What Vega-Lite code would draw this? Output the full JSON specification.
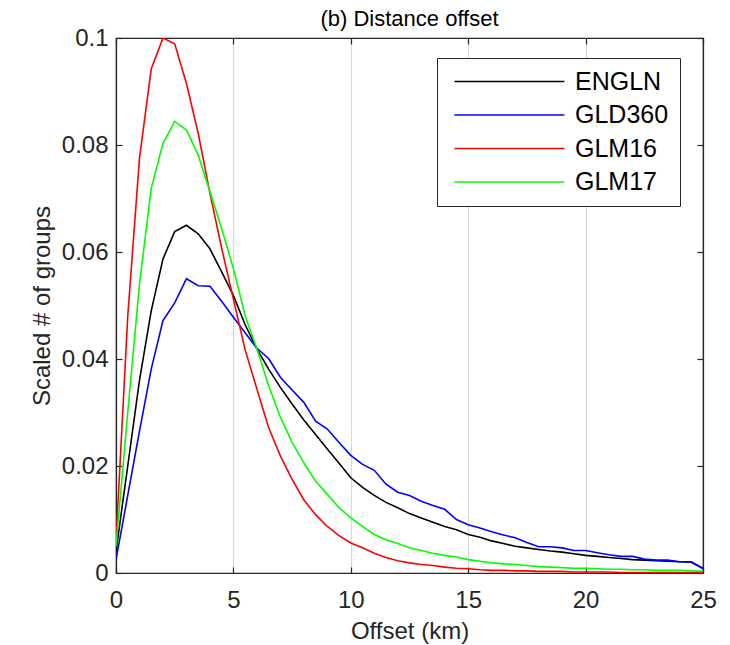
{
  "$schema": "https://vega.github.io/schema/vega-lite/v6.json",
  "width": 587,
  "height": 535,
  "autosize": {"type": "none"},
  "padding": {"left": 116, "top": 38, "right": 27, "bottom": 72},
  "background": "white",
  "title": {"text": "(b) Distance offset", "fontSize": 22, "fontWeight": "normal", "font": "Liberation Sans", "color": "#000000", "offset": -5},
  "config": {
    "font": "Liberation Sans",
    "view": {"stroke": "#262626", "strokeWidth": 1.2},
    "axis": {"labelFont": "Liberation Sans", "titleFont": "Liberation Sans", "labelFontSize": 24, "titleFontSize": 24, "titleFontWeight": "normal", "labelColor": "#262626", "titleColor": "#262626", "domainColor": "#262626", "tickColor": "#262626", "domainWidth": 1.2, "tickWidth": 1.2},
    "legend": {"labelFont": "Liberation Sans"}
  },
  "data": {"values": [
    {"km": 0, "ENGLN": 0.004, "GLD360": 0.0025, "GLM16": 0.006, "GLM17": 0.005},
    {"km": 0.5, "ENGLN": 0.020, "GLD360": 0.0145, "GLM16": 0.048, "GLM17": 0.030},
    {"km": 1, "ENGLN": 0.036, "GLD360": 0.0265, "GLM16": 0.0775, "GLM17": 0.054},
    {"km": 1.5, "ENGLN": 0.049, "GLD360": 0.0381, "GLM16": 0.0942, "GLM17": 0.0719},
    {"km": 2, "ENGLN": 0.0587, "GLD360": 0.0472, "GLM16": 0.1, "GLM17": 0.0803},
    {"km": 2.5, "ENGLN": 0.0638, "GLD360": 0.0505, "GLM16": 0.0989, "GLM17": 0.0844},
    {"km": 3, "ENGLN": 0.065, "GLD360": 0.055, "GLM16": 0.0915, "GLM17": 0.0828},
    {"km": 3.5, "ENGLN": 0.0634, "GLD360": 0.0537, "GLM16": 0.0822, "GLM17": 0.0781},
    {"km": 4, "ENGLN": 0.0606, "GLD360": 0.0536, "GLM16": 0.071, "GLM17": 0.0713},
    {"km": 4.5, "ENGLN": 0.0563, "GLD360": 0.0508, "GLM16": 0.0607, "GLM17": 0.0644},
    {"km": 5, "ENGLN": 0.0519, "GLD360": 0.0478, "GLM16": 0.0512, "GLM17": 0.0569},
    {"km": 5.5, "ENGLN": 0.0464, "GLD360": 0.0449, "GLM16": 0.0417, "GLM17": 0.0481},
    {"km": 6, "ENGLN": 0.0419, "GLD360": 0.042, "GLM16": 0.0344, "GLM17": 0.0419},
    {"km": 6.5, "ENGLN": 0.0381, "GLD360": 0.0401, "GLM16": 0.0272, "GLM17": 0.035},
    {"km": 7, "ENGLN": 0.0347, "GLD360": 0.0366, "GLM16": 0.0219, "GLM17": 0.0291},
    {"km": 7.5, "ENGLN": 0.0316, "GLD360": 0.0342, "GLM16": 0.0175, "GLM17": 0.0244},
    {"km": 8, "ENGLN": 0.0286, "GLD360": 0.0319, "GLM16": 0.0137, "GLM17": 0.0206},
    {"km": 8.5, "ENGLN": 0.0259, "GLD360": 0.0284, "GLM16": 0.0109, "GLM17": 0.0172},
    {"km": 9, "ENGLN": 0.0232, "GLD360": 0.0269, "GLM16": 0.0087, "GLM17": 0.0147},
    {"km": 9.5, "ENGLN": 0.0205, "GLD360": 0.0244, "GLM16": 0.007, "GLM17": 0.0122},
    {"km": 10, "ENGLN": 0.0178, "GLD360": 0.022, "GLM16": 0.0056, "GLM17": 0.0103},
    {"km": 10.5, "ENGLN": 0.016, "GLD360": 0.0203, "GLM16": 0.0047, "GLM17": 0.0087},
    {"km": 11, "ENGLN": 0.0145, "GLD360": 0.0192, "GLM16": 0.0037, "GLM17": 0.0072},
    {"km": 11.5, "ENGLN": 0.0132, "GLD360": 0.0166, "GLM16": 0.0029, "GLM17": 0.0062},
    {"km": 12, "ENGLN": 0.0122, "GLD360": 0.0151, "GLM16": 0.0023, "GLM17": 0.0055},
    {"km": 12.5, "ENGLN": 0.0111, "GLD360": 0.0145, "GLM16": 0.0019, "GLM17": 0.0047},
    {"km": 13, "ENGLN": 0.0103, "GLD360": 0.0134, "GLM16": 0.0016, "GLM17": 0.0042},
    {"km": 13.5, "ENGLN": 0.0095, "GLD360": 0.0126, "GLM16": 0.0014, "GLM17": 0.0037},
    {"km": 14, "ENGLN": 0.0087, "GLD360": 0.0119, "GLM16": 0.0011, "GLM17": 0.0033},
    {"km": 14.5, "ENGLN": 0.0081, "GLD360": 0.010, "GLM16": 0.0009, "GLM17": 0.003},
    {"km": 15, "ENGLN": 0.0072, "GLD360": 0.009, "GLM16": 0.0008, "GLM17": 0.0025},
    {"km": 15.5, "ENGLN": 0.0067, "GLD360": 0.0084, "GLM16": 0.0006, "GLM17": 0.0022},
    {"km": 16, "ENGLN": 0.006, "GLD360": 0.0077, "GLM16": 0.0005, "GLM17": 0.0019},
    {"km": 16.5, "ENGLN": 0.0055, "GLD360": 0.0071, "GLM16": 0.0005, "GLM17": 0.0017},
    {"km": 17, "ENGLN": 0.005, "GLD360": 0.0066, "GLM16": 0.0004, "GLM17": 0.0016},
    {"km": 17.5, "ENGLN": 0.0047, "GLD360": 0.0057, "GLM16": 0.0004, "GLM17": 0.0014},
    {"km": 18, "ENGLN": 0.0044, "GLD360": 0.0049, "GLM16": 0.0003, "GLM17": 0.0012},
    {"km": 18.5, "ENGLN": 0.0041, "GLD360": 0.0049, "GLM16": 0.0003, "GLM17": 0.0011},
    {"km": 19, "ENGLN": 0.0039, "GLD360": 0.0047, "GLM16": 0.0003, "GLM17": 0.001},
    {"km": 19.5, "ENGLN": 0.0036, "GLD360": 0.0042, "GLM16": 0.0002, "GLM17": 0.0009},
    {"km": 20, "ENGLN": 0.0033, "GLD360": 0.0042, "GLM16": 0.0002, "GLM17": 0.0009},
    {"km": 20.5, "ENGLN": 0.0031, "GLD360": 0.0038, "GLM16": 0.0002, "GLM17": 0.0008},
    {"km": 21, "ENGLN": 0.0029, "GLD360": 0.0034, "GLM16": 0.0002, "GLM17": 0.0007},
    {"km": 21.5, "ENGLN": 0.0027, "GLD360": 0.0031, "GLM16": 0.0001, "GLM17": 0.0007},
    {"km": 22, "ENGLN": 0.0025, "GLD360": 0.0031, "GLM16": 0.0001, "GLM17": 0.0006},
    {"km": 22.5, "ENGLN": 0.0024, "GLD360": 0.0026, "GLM16": 0.0001, "GLM17": 0.0006},
    {"km": 23, "ENGLN": 0.0023, "GLD360": 0.0024, "GLM16": 0.0001, "GLM17": 0.0005},
    {"km": 23.5, "ENGLN": 0.0022, "GLD360": 0.0024, "GLM16": 0.0001, "GLM17": 0.0005},
    {"km": 24, "ENGLN": 0.0021, "GLD360": 0.0021, "GLM16": 0.0001, "GLM17": 0.0005},
    {"km": 24.5, "ENGLN": 0.002, "GLD360": 0.0021, "GLM16": 0.0001, "GLM17": 0.0004},
    {"km": 25, "ENGLN": 0.0009, "GLD360": 0.0008, "GLM16": 0.0001, "GLM17": 0.0003}
  ]},
  "transform": [{"fold": ["ENGLN", "GLD360", "GLM16", "GLM17"], "as": ["network", "value"]}],
  "layer": [
    {
      "mark": {"type": "line", "strokeWidth": 1.6, "clip": true},
      "encoding": {
        "x": {"field": "km", "type": "quantitative", "scale": {"domain": [0, 25], "nice": false},
          "axis": {"orient": "bottom", "title": "Offset (km)", "values": [0, 5, 10, 15, 20, 25], "grid": true, "gridColor": "#d9d9d9", "gridWidth": 1.2, "tickSize": -6, "labelPadding": 21, "titlePadding": 7, "labelFlush": false}},
        "y": {"field": "value", "type": "quantitative", "scale": {"domain": [0, 0.1], "nice": false},
          "axis": {"orient": "left", "title": "Scaled # of groups", "values": [0, 0.02, 0.04, 0.06, 0.08, 0.1], "format": ".2~f", "grid": false, "tickSize": -6, "labelPadding": 14, "titlePadding": 7, "labelFlush": false}},
        "color": {"field": "network", "type": "nominal",
          "scale": {"domain": ["ENGLN", "GLD360", "GLM16", "GLM17"], "range": ["#000000", "#0000ff", "#ff0000", "#00ff00"]},
          "legend": {"title": null, "orient": "none", "legendX": 321, "legendY": 20, "strokeColor": "#262626", "fillColor": "white", "padding": 11, "symbolType": "M-0.55,0H9.45", "symbolSize": 484, "symbolStrokeWidth": 1.6, "symbolFillColor": "transparent", "labelFontSize": 25, "labelColor": "#000000", "labelOffset": 102, "rowPadding": 7.5}}
      }
    },
    {
      "mark": {"type": "line", "opacity": 0},
      "encoding": {
        "x": {"field": "km", "type": "quantitative", "axis": {"orient": "top", "title": null, "labels": false, "values": [0, 5, 10, 15, 20, 25], "tickSize": -6, "grid": false}},
        "y": {"field": "value", "type": "quantitative", "axis": {"orient": "right", "title": null, "labels": false, "values": [0, 0.02, 0.04, 0.06, 0.08, 0.1], "tickSize": -6, "grid": false}},
        "detail": {"field": "network"}
      }
    }
  ],
  "resolve": {"axis": {"x": "independent", "y": "independent"}}
}
